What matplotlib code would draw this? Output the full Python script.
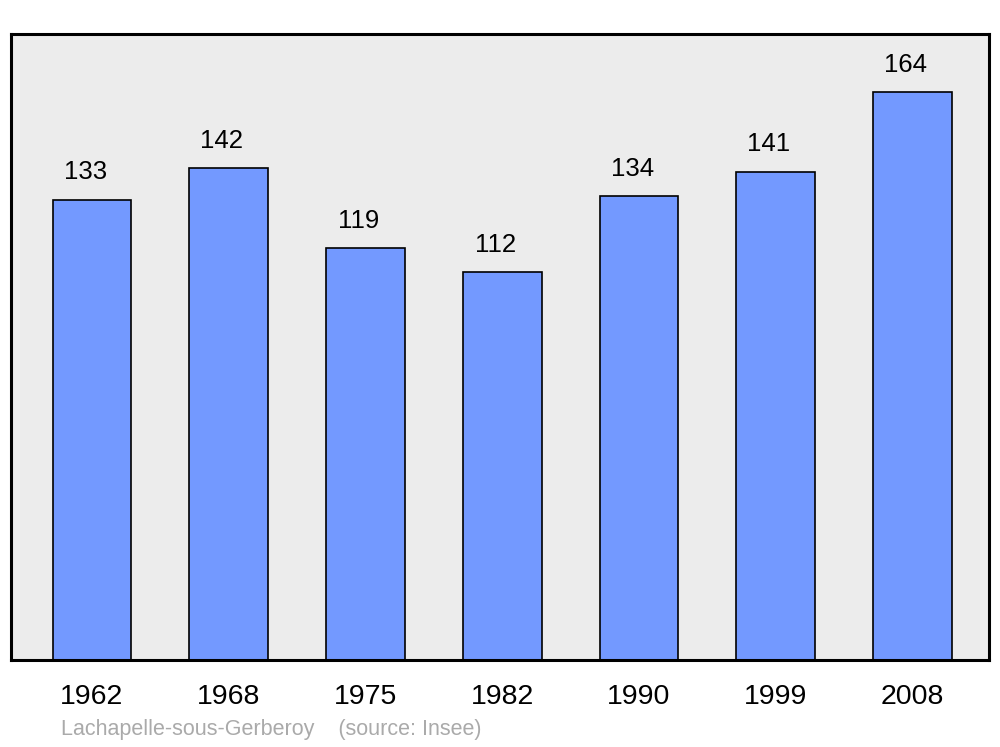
import matplotlib
matplotlib.use("Agg")
import matplotlib.pyplot as plt

years = ["1962", "1968", "1975", "1982", "1990", "1999", "2008"]
population = [133, 142, 119, 112, 134, 141, 164]
caption = "Lachapelle-sous-Gerberoy    (source: Insee)"

plt.rcParams['font.family'] = ['Liberation Sans', 'DejaVu Sans']

fig = plt.figure(figsize=(10, 7.47), dpi=100)
W, H = 1000, 747
ax = fig.add_axes([11 / W, 1 - 660 / H, 978 / W, (660 - 34) / H])
ax.set_facecolor("#ececec")

x = list(range(len(years)))
ax.bar(x, population, width=0.575, color="#7399ff", edgecolor="black", linewidth=1.2, zorder=2)
for xi, v in zip(x, population):
    ax.text(xi - 0.05, v + 7.9, str(v), ha="center", va="center", fontsize=18.5, color="black")

ax.set_xlim(-0.592, 6.56)
ax.set_ylim(0, 180.8)
ax.set_yticks([])
ax.set_xticks(x)
ax.set_xticklabels(years, fontsize=20.5)
ax.tick_params(axis="x", length=0, pad=17)
for s in ax.spines.values():
    s.set_linewidth(2.2)
    s.set_color("black")

fig.text(61 / W, 1 - 730 / H, caption, ha="left", va="center", fontsize=15.5, color="#aaaaaa")

fig.savefig("out.png", dpi=100, facecolor="white")
